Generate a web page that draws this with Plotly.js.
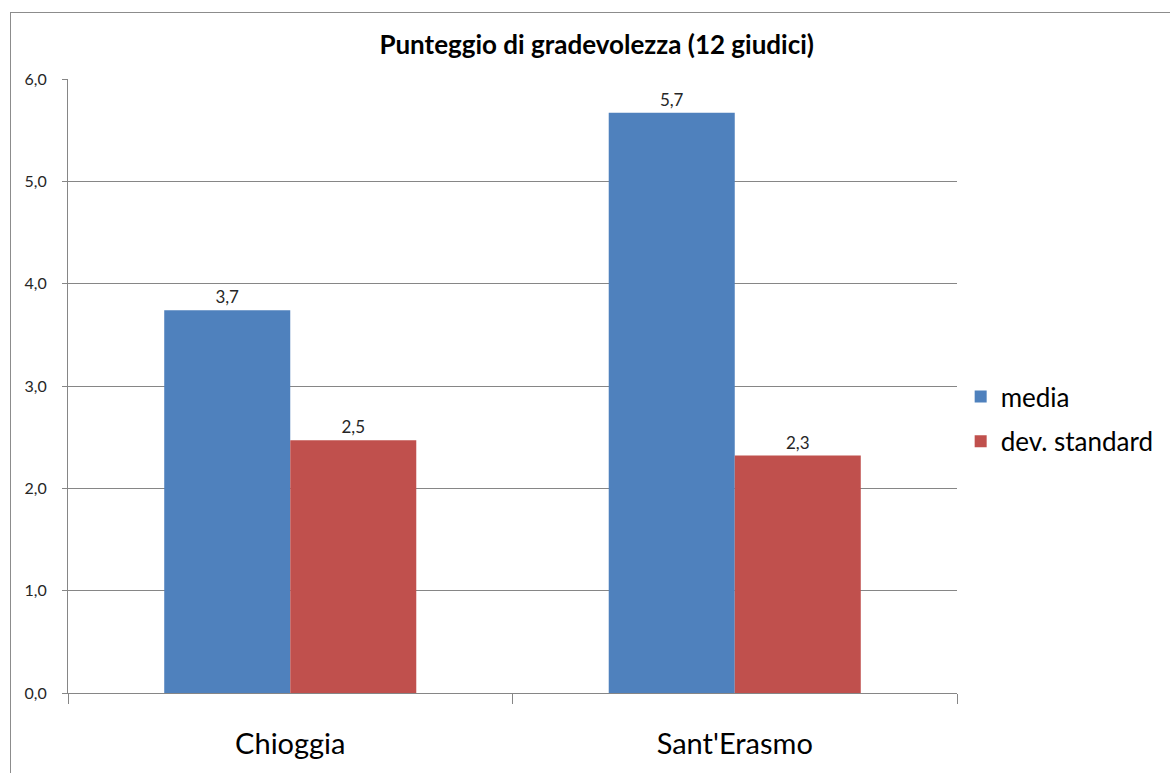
<!DOCTYPE html>
<html>
<head>
<meta charset="utf-8">
<script src="https://cdn.plot.ly/plotly-3.0.1.min.js"></script>
<style>
html,body{margin:0;padding:0;background:#fff;}
#chart{width:1170px;height:773px;position:absolute;left:0;top:0;}
#frame{position:absolute;left:10px;top:12px;width:1200px;height:800px;border:1px solid #8c8c8c;pointer-events:none;}
</style>
</head>
<body>
<div id="chart"></div>
<div id="frame"></div>
<script>
const categories = ["Chioggia", "Sant'Erasmo"];
const mediaValues = [3.74, 5.67];
const devStdValues = [2.47, 2.32];
const seriesNames = ["media", "dev. standard"];
const yTicks = [0, 1, 2, 3, 4, 5, 6];

const FONT = "Lato, 'Noto Sans', sans-serif";

const traces = [
  {
    type: 'bar', name: seriesNames[0], x: categories, y: mediaValues,
    legendgroup: 'a',
    marker: {color: '#4F81BD'},
    texttemplate: '%{y:.1f}', textposition: 'outside', cliponaxis: false,
    textfont: {family: FONT, size: 17, color: '#262626'},
    hoverinfo: 'skip'
  },
  {
    type: 'bar', name: seriesNames[1], x: categories, y: devStdValues,
    legendgroup: 'b',
    marker: {color: '#C0504D'},
    texttemplate: '%{y:.1f}', textposition: 'outside', cliponaxis: false,
    textfont: {family: FONT, size: 17, color: '#262626'},
    hoverinfo: 'skip'
  }
];

const layout = {
  width: 1170, height: 773,
  margin: {l: 68, r: 212, t: 79, b: 80},
  paper_bgcolor: '#fff', plot_bgcolor: '#fff',
  separators: ',.',
  font: {family: FONT, color: '#262626'},
  title: {
    text: '<b>Punteggio di gradevolezza (12 giudici)</b>',
    font: {family: FONT, size: 26, color: '#000'},
    x: 0.51, xanchor: 'center', y: 1 - 45/773, yanchor: 'middle'
  },
  barmode: 'group', bargap: 0.433, bargroupgap: 0,
  showlegend: true,
  legend: {
    x: 1.003, xanchor: 'left', y: 0.446, yanchor: 'middle',
    font: {family: FONT, size: 26, color: '#000'},
    itemwidth: 30, traceorder: 'grouped', tracegroupgap: 8,
    bgcolor: 'rgba(0,0,0,0)'
  },
  xaxis: {
    type: 'category',
    showline: true, linecolor: '#868686', linewidth: 1,
    ticks: 'outside', tickson: 'boundaries', ticklen: 10, tickcolor: '#868686',
    tickfont: {family: FONT, size: 29, color: '#000'},
    ticklabelstandoff: 25,
    showgrid: false, zeroline: false, fixedrange: true
  },
  yaxis: {
    range: [0, 6], tickvals: yTicks, tickformat: '.1f',
    showline: true, linecolor: '#868686', linewidth: 1,
    ticks: 'outside', ticklen: 5, tickcolor: '#868686',
    showgrid: true, gridcolor: '#868686', gridwidth: 1,
    zeroline: false,
    tickfont: {family: FONT, size: 16, color: '#262626'},
    ticklabelstandoff: 12, fixedrange: true
  }
};

Plotly.newPlot('chart', traces, layout, {displayModeBar: false, staticPlot: true});
</script>
</body>
</html>
